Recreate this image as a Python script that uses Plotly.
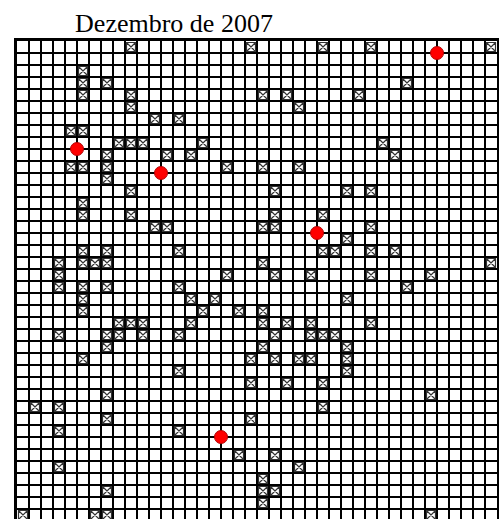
import plotly.graph_objects as go

title_text = "Dezembro de 2007"
n_cols = 40
n_rows = 40

# cells marked with a boxed X: (column, row), counted from the top-left cell
mark_col = [9, 19, 25, 29, 39,
            5,
            5, 7, 32,
            5, 9, 20, 22, 28,
            9, 23,
            11, 13,
            4, 5,
            8, 9, 10, 15, 30,
            7, 12, 14, 31,
            4, 5, 7, 17, 20, 23,
            7,
            9, 21, 27, 29,
            5,
            5, 9, 21, 25,
            11, 12, 20, 21, 29,
            27,
            5, 7, 13, 25, 26, 29, 31,
            3, 5, 6, 7, 20, 39,
            3, 17, 21, 24, 29, 34,
            3, 5, 7, 13, 32,
            5, 14, 16, 27,
            5, 15, 18, 20,
            8, 9, 10, 14, 20, 22, 24, 29,
            3, 7, 8, 10, 13, 21, 24, 25, 26,
            7, 20, 27,
            5, 19, 21, 23, 24, 27,
            13, 27,
            19, 22, 25,
            7, 34,
            1, 3, 25,
            7, 19,
            3, 13,
            18, 21,
            3, 23,
            20,
            7, 20, 21,
            20,
            0, 6, 7, 34]
mark_row = [0, 0, 0, 0, 0,
            2,
            3, 3, 3,
            4, 4, 4, 4, 4,
            5, 5,
            6, 6,
            7, 7,
            8, 8, 8, 8, 8,
            9, 9, 9, 9,
            10, 10, 10, 10, 10, 10,
            11,
            12, 12, 12, 12,
            13,
            14, 14, 14, 14,
            15, 15, 15, 15, 15,
            16,
            17, 17, 17, 17, 17, 17, 17,
            18, 18, 18, 18, 18, 18,
            19, 19, 19, 19, 19, 19,
            20, 20, 20, 20, 20,
            21, 21, 21, 21,
            22, 22, 22, 22,
            23, 23, 23, 23, 23, 23, 23, 23,
            24, 24, 24, 24, 24, 24, 24, 24, 24,
            25, 25, 25,
            26, 26, 26, 26, 26, 26,
            27, 27,
            28, 28, 28,
            29, 29,
            30, 30, 30,
            31, 31,
            32, 32,
            34, 34,
            35, 35,
            36,
            37, 37, 37,
            38,
            39, 39, 39, 39]

# red dots sit on grid intersections
dot_col = [35, 5, 12, 25, 17]
dot_row = [1, 9, 11, 16, 33]

fig = go.Figure()
fig.add_trace(go.Scatter(
    x=[c + 0.5 for c in mark_col],
    y=[r + 0.5 for r in mark_row],
    mode="markers",
    hoverinfo="skip",
    marker=dict(symbol="square-x-open", size=9, color="#333333",
                line=dict(width=1.2, color="#333333")),
))
fig.add_trace(go.Scatter(
    x=dot_col, y=dot_row,
    mode="markers",
    hoverinfo="skip",
    marker=dict(symbol="circle", size=13, color="#ff0000",
                line=dict(width=1, color="#b00000")),
))

axis_common = dict(
    dtick=1, tick0=0, showgrid=True, gridcolor="#000000", gridwidth=2,
    zeroline=False, showticklabels=False, ticks="",
    showline=True, linecolor="#000000", linewidth=3,
)

fig.update_layout(
    width=499, height=519,
    margin=dict(l=17, r=2, t=41, b=0, pad=0),
    paper_bgcolor="white", plot_bgcolor="white",
    showlegend=False,
    title=dict(text=title_text, x=174 / 499, xanchor="center",
               y=1 - 22.5 / 519, yanchor="middle",
               font=dict(family="Liberation Serif", size=26, color="#000000")),
    xaxis=dict(range=[0, n_cols], side="top", mirror=False, **axis_common),
    yaxis=dict(range=[n_rows - 2 / 12 - 0.0001, 0], mirror=True, **axis_common),
)

fig.write_html(
    "out.html",
    config={"displayModeBar": False},
    post_script="document.body.style.margin='0';document.body.style.padding='0';"
                "document.body.style.overflow='hidden';",
)
